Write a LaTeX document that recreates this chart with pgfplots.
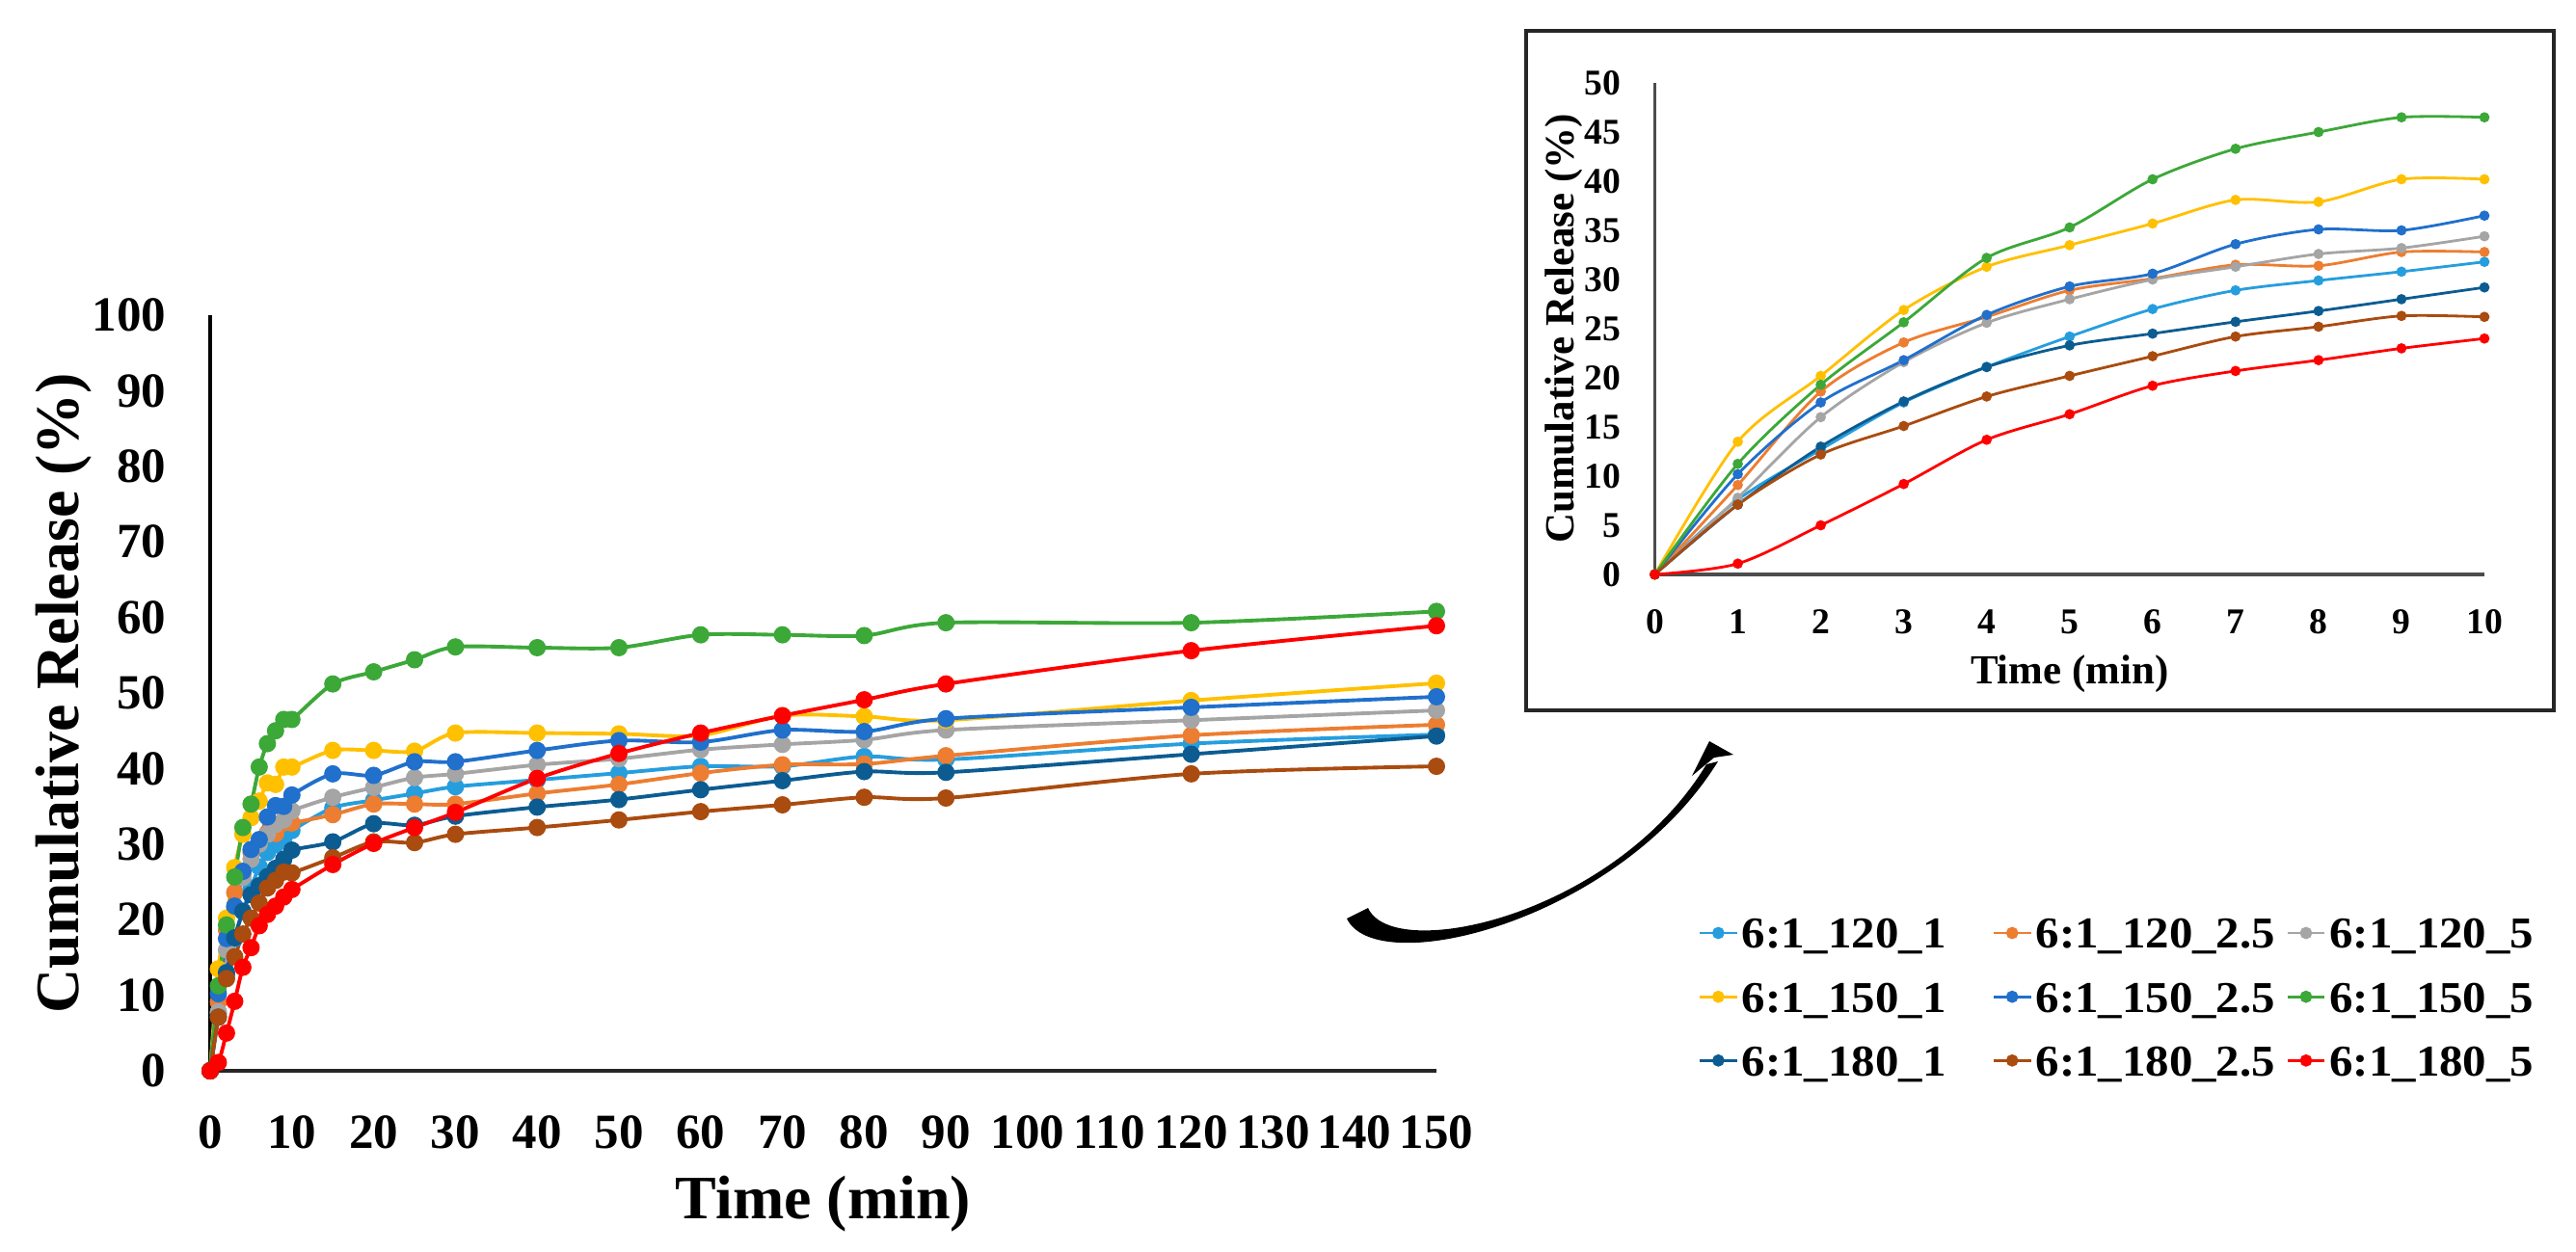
\documentclass[border=0pt]{standalone}
\usepackage{pgfplots}
\pgfplotsset{compat=1.18}
\usepackage{pgfplotstable}
\usepackage{graphicx}
\usepackage{fontspec}
\setmainfont{Liberation Serif}

\definecolor{cA}{RGB}{38,158,222}   % 6:1_120_1
\definecolor{cB}{RGB}{237,125,49}   % 6:1_120_2.5
\definecolor{cC}{RGB}{165,165,165}  % 6:1_120_5
\definecolor{cD}{RGB}{255,192,0}    % 6:1_150_1
\definecolor{cE}{RGB}{32,112,204}   % 6:1_150_2.5
\definecolor{cF}{RGB}{60,168,56}    % 6:1_150_5
\definecolor{cG}{RGB}{12,92,145}    % 6:1_180_1
\definecolor{cH}{RGB}{170,75,15}    % 6:1_180_2.5
\definecolor{cI}{RGB}{255,0,0}      % 6:1_180_5

% cumulative release (%) versus time (min)
\pgfplotstableread{
t   s1   s2   s3   s4   s5   s6    s7   s8   s9
0   0    0    0    0    0    0     0    0    0
1   7.6  9.1  7.8  13.5 10.2 11.25 7.1  7.1  1.1
2   12.7 18.6 16.0 20.2 17.5 19.3  13.0 12.2 5.0
3   17.5 23.6 21.6 26.9 21.8 25.65 17.6 15.1 9.2
4   21.1 26.2 25.6 31.3 26.4 32.2  21.1 18.1 13.7
5   24.2 28.9 28.0 33.5 29.3 35.3  23.3 20.2 16.3
6   27.0 30.1 30.0 35.7 30.6 40.2  24.5 22.2 19.2
7   28.9 31.5 31.3 38.1 33.6 43.3  25.7 24.2 20.7
8   29.9 31.4 32.6 37.9 35.1 45.0  26.8 25.2 21.8
9   30.8 32.8 33.2 40.2 35.0 46.5  28.0 26.3 23.0
10  31.8 32.8 34.4 40.2 36.5 46.5  29.2 26.2 24.0
15  34.8 33.9 36.2 42.4 39.3 51.2  30.3 28.2 27.3
20  35.8 35.3 37.5 42.4 39.1 52.8  32.7 30.3 30.1
25  36.7 35.3 38.8 42.3 40.9 54.4  32.5 30.2 32.2
30  37.6 35.3 39.3 44.7 40.9 56.1  33.7 31.3 34.2
40  38.5 36.7 40.5 44.7 42.4 56.0  34.9 32.2 38.7
50  39.4 37.9 41.3 44.6 43.7 56.0  35.9 33.2 42.0
60  40.3 39.4 42.5 44.4 43.5 57.7  37.2 34.3 44.7
70  40.3 40.5 43.2 47.0 45.1 57.7  38.4 35.2 47.0
80  41.6 40.6 43.8 46.9 44.9 57.6  39.6 36.2 49.1
90  41.2 41.7 45.1 46.4 46.6 59.3  39.5 36.1 51.2
120 43.3 44.4 46.4 49.0 48.1 59.3  41.9 39.3 55.6
150 44.5 45.8 47.7 51.3 49.5 60.8  44.3 40.3 58.9
}\release

\newcommand{\leg}[1]{\makebox[2.60cm][l]{\rule[-0.2cm]{0pt}{0.67cm}\scalebox{1.07}[1]{#1}}}

\pgfplotsset{
  series/.style={color=#1, smooth, tension=0.5, mark=*, mark options={solid, fill=#1}},
}

\begin{document}
\begin{tikzpicture}
% ---------------- full release profile ----------------
\begin{axis}[
  at={(2.18cm,-11.11cm)}, anchor=south west,
  scale only axis, width=12.72cm, height=7.84cm,
  xmin=0, xmax=150, ymin=0, ymax=100,
  axis x line*=bottom, axis y line*=left,
  x axis line style={line width=1.3pt, black!85, -},
  y axis line style={line width=0.9pt, black, -},
  xtick={0,10,...,150}, ytick={0,10,...,100},
  major tick length=0pt,
  clip=false,
  /pgf/number format/assume math mode=true,
  ticklabel style={font=\fontsize{14.5}{14.5}\selectfont\bfseries, inner sep=0pt},
  xticklabel style={anchor=base, yshift=-0.80cm},
  yticklabel style={anchor=east, xshift=-0.45cm},
  xlabel={Time (min)},
  ylabel={Cumulative Release (\%)},
  label style={font=\fontsize{18.2}{18.2}\selectfont\bfseries},
  xlabel style={at={(axis description cs:0.5,-0.1964)}, anchor=base},
  ylabel style={at={(axis description cs:-0.1077,0.5)}, anchor=base},
  every axis plot/.append style={line width=1.1pt, mark size=2pt},
  legend columns=3,
  legend cell align=left,
  legend style={at={(1.2138,0.2487)}, anchor=north west, draw=none, fill=none,
    inner sep=0pt, outer sep=0pt, row sep=-0.07cm, column sep=0pt,
    font=\fontsize{13}{13}\selectfont\bfseries,
    nodes={inner sep=0pt, outer sep=0pt},
    /tikz/every odd column/.append style={column sep=0.04cm}},
  legend image code/.code={%
    \path[draw=none, fill=none] (0cm,-0.2cm) rectangle (0.38cm,0.47cm);
    \draw[mark repeat=2, mark phase=2, #1, line width=0.8pt, mark size=1.4pt]
      plot coordinates {(0cm,-0.05cm) (0.19cm,-0.05cm) (0.38cm,-0.05cm)};},
]
\addplot[series=cA] table[x=t, y=s1] {\release}; \addlegendentry{\leg{6:1\_120\_1}}
\addplot[series=cB] table[x=t, y=s2] {\release}; \addlegendentry{\leg{6:1\_120\_2.5}}
\addplot[series=cC] table[x=t, y=s3] {\release}; \addlegendentry{\leg{6:1\_120\_5}}
\addplot[series=cD] table[x=t, y=s4] {\release}; \addlegendentry{\leg{6:1\_150\_1}}
\addplot[series=cE] table[x=t, y=s5] {\release}; \addlegendentry{\leg{6:1\_150\_2.5}}
\addplot[series=cF] table[x=t, y=s6] {\release}; \addlegendentry{\leg{6:1\_150\_5}}
\addplot[series=cG] table[x=t, y=s7] {\release}; \addlegendentry{\leg{6:1\_180\_1}}
\addplot[series=cH] table[x=t, y=s8] {\release}; \addlegendentry{\leg{6:1\_180\_2.5}}
\addplot[series=cI] table[x=t, y=s9] {\release}; \addlegendentry{\leg{6:1\_180\_5}}
\end{axis}

% ---------------- first ten minutes ----------------
\fill[white] (15.83,-0.32) rectangle (26.49,-7.37);
\begin{axis}[
  at={(17.165cm,-5.96cm)}, anchor=south west,
  scale only axis, width=8.605cm, height=5.10cm,
  xmin=0, xmax=10, ymin=0, ymax=50,
  axis x line*=bottom, axis y line*=left,
  x axis line style={line width=1.1pt, black!70, -},
  y axis line style={line width=0.6pt, black!70, -},
  xtick={0,...,10}, ytick={0,5,...,50},
  major tick length=0pt,
  clip=false,
  /pgf/number format/assume math mode=true,
  ticklabel style={font=\fontsize{10.7}{10.7}\selectfont\bfseries, inner sep=0pt},
  xticklabel style={anchor=base, yshift=-0.61cm},
  yticklabel style={anchor=east, xshift=-0.345cm},
  xlabel={Time (min)},
  ylabel={Cumulative Release (\%)},
  label style={font=\fontsize{12.2}{12.2}\selectfont\bfseries},
  xlabel style={at={(axis description cs:0.5,-0.2216)}, anchor=base},
  ylabel style={at={(axis description cs:-0.0982,0.5)}, anchor=base},
  every axis plot/.append style={line width=0.8pt, mark size=1.1pt},
  restrict x to domain=0:10,
]
\addplot[series=cA] table[x=t, y=s1] {\release};
\addplot[series=cB] table[x=t, y=s2] {\release};
\addplot[series=cC] table[x=t, y=s3] {\release};
\addplot[series=cD] table[x=t, y=s4] {\release};
\addplot[series=cE] table[x=t, y=s5] {\release};
\addplot[series=cF] table[x=t, y=s6] {\release};
\addplot[series=cG] table[x=t, y=s7] {\release};
\addplot[series=cH] table[x=t, y=s8] {\release};
\addplot[series=cI] table[x=t, y=s9] {\release};
\end{axis}
\draw[line width=0.9pt, black!85] (15.83,-0.32) rectangle (26.49,-7.37);

% curved pointer from the main plot to the enlarged view
\fill[black] (13.97,-9.53) .. controls (14.28,-10.18) and (16.80,-9.55) .. (17.82,-7.90)
  -- (17.70,-7.93) .. controls (16.75,-9.50) and (14.45,-10.00) .. (14.19,-9.42) -- cycle;
\fill[black] (17.73,-7.69) -- (17.98,-7.83) -- (17.78,-7.86) -- (17.55,-8.05) -- cycle;

\pgfresetboundingbox
\path[use as bounding box] (0,0) rectangle (26.72,-12.98);
\end{tikzpicture}
\end{document}
